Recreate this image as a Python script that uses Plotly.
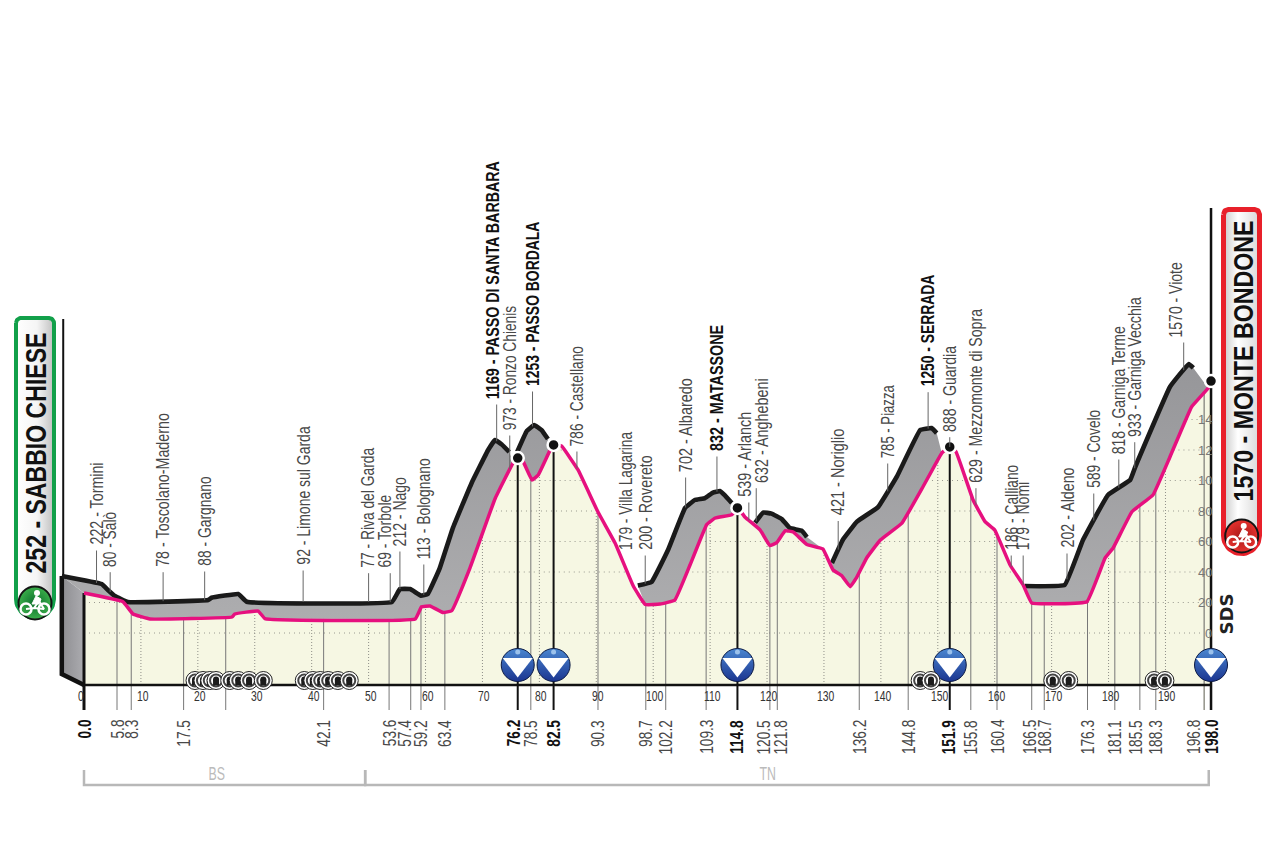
import numpy as np
import plotly.graph_objects as go

# ---------- DATA (km, metres) ----------
road_km = [0, 6.85, 8.6, 11.6, 26.0, 26.5, 30.6, 31.8, 58.2, 59.3, 60.8, 63.1, 64.6, 67.8, 72.2, 75.4, 76.2,
           77.1, 78.7, 79.8, 81.9, 82.6, 83.9, 86.8, 90.3, 93.3, 96.5, 98.6, 101.2, 103.8, 106.5, 109.4,
           110.9, 113.8, 114.9, 116.1, 118.8, 120.5, 121.7, 123.2, 124.6, 127.0, 129.8, 131.6, 133.1,
           134.6, 135.7, 137.5, 139.9, 143.7, 147.4, 150.7, 152.1, 153.2, 156.2, 158.3, 160.0, 162.7,
           165.0, 166.5, 176.2, 179.4, 180.8, 184.1, 187.8, 190.8, 194.6, 197.5, 198.0]
road_m = [262, 205, 125, 92, 105, 125, 144, 94, 92, 172, 177, 134, 146, 426, 879, 1117, 1147,
          1128, 1003, 1036, 1200, 1233, 1226, 1069, 793, 590, 308, 187, 190, 216, 449, 711,
          754, 776, 820, 761, 675, 573, 592, 671, 662, 580, 551, 413, 377,
          304, 361, 492, 610, 721, 959, 1180, 1220, 1189, 872, 730, 675, 446,
          315, 197, 205, 492, 557, 795, 905, 1156, 1484, 1606, 1652]

ridge1_km = [-3.9, 3.1, 4.2, 5.4, 7.7, 21.8, 22.4, 27.1, 28.6, 54.1, 55.5, 57.3, 59.2, 60.4, 62.5, 64.8, 68.1, 71.0, 72.2, 73.4, 74.7]
ridge1_m = [374, 321, 282, 243, 203, 216, 231, 256, 205, 203, 288, 288, 245, 256, 426, 688, 984, 1200, 1265, 1236, 1187]
ridge2_km = [76.1, 77.8, 79.1, 80.4, 81.5]
ridge2_m = [1187, 1325, 1364, 1331, 1272]
ridge3_km = [97.3, 99.7, 102.6, 105.6, 107.3, 109.1, 110.5, 111.7, 112.6, 113.8]
ridge3_m = [311, 334, 544, 820, 872, 885, 921, 931, 902, 852]
ridge4_km = [117.9, 119.3, 120.8, 122.6, 124.0, 126.1, 127.0]
ridge4_m = [723, 790, 783, 747, 688, 671, 629]
ridge5_km = [131.4, 133.3, 135.8, 139.5, 142.8, 146.9, 148.9, 149.8]
ridge5_m = [459, 610, 730, 826, 1025, 1331, 1344, 1311]
ridge6_km = [165.3, 172.3, 175.5, 179.9, 183.8, 184.7, 190.8, 194.1, 194.9]
ridge6_m = [308, 315, 610, 905, 1003, 1090, 1615, 1764, 1738]

# road stretch closed by each ridge band
band_road_km = [(0, 75.4), (76.2, 81.9), (98.6, 113.8), (118.8, 129.8), (131.6, 150.7), (165.0, 197.5)]

place_alt = ["222", "80", "78", "88", "92", "77", "69", "212", "113", "1169", "973", "1253", "786", "179", "200",
             "702", "832", "539", "632", "421", "785", "1250", "888", "629", "186", "179", "202", "589", "818", "933", "1570"]
place_name = ["Tormini", "Salò", "Toscolano-Maderno", "Gargnano", "Limone sul Garda", "Riva del Garda", "Torbole",
              "Nago", "Bolognano", "PASSO DI SANTA BARBARA", "Ronzo Chienis", "PASSO BORDALA", "Castellano",
              "Villa Lagarina", "Rovereto", "Albaredo", "MATASSONE", "Arlanch", "Anghebeni", "Noriglio", "Piazza",
              "SERRADA", "Guardia", "Mezzomonte di Sopra", "Calliano", "Nomi", "Aldeno", "Covelo", "Garniga Terme",
              "Garniga Vecchia", "Viote"]
place_km = [2.2, 4.6, 13.9, 21.2, 38.5, 50.0, 53.8, 55.5, 59.7, 72.5, 74.8, 78.8, 86.6, 95.2, 98.6, 105.7, 111.2,
            116.8, 118.1, 132.5, 141.2, 148.3, 152.1, 156.7, 162.9, 165.0, 172.7, 177.4, 181.8, 184.6, 193.2]

km_marks = [0.0, 5.8, 8.3, 17.5, 42.1, 53.6, 57.4, 59.2, 63.4, 76.2, 78.5, 82.5, 90.3, 98.7, 102.2, 109.3, 114.8,
            120.5, 121.8, 136.2, 144.8, 151.9, 155.8, 160.4, 166.5, 168.7, 176.3, 181.1, 185.5, 188.3, 196.8, 198.0]
km_unlabelled = [24.9]
km_bold = [0.0, 76.2, 82.5, 114.8, 151.9, 198.0]
climb_km = [76.2, 82.5, 114.8, 152.1, 198.0]
climb_m = [1147, 1233, 820, 1220, 1652]
tunnel_km = [19.5, 20.9, 22.1, 23.2, 25.6, 27.1, 29.0, 31.5, 38.7, 40.2, 41.5, 42.9, 44.6, 46.6,
             146.9, 148.8, 170.2, 173.0, 188.0, 189.9]
axis_km = list(range(0, 200, 10))
axis_m = list(range(0, 1600, 200))
axis_m_text = ["0", "20", "40", "60", "80", "10", "12", "14"]
provinces = ["BS", "TN"]
province_km = [0, 49.4, 197.6]
start_text = "252 - SABBIO CHIESE"
finish_text = "1570 - MONTE BONDONE"

# ---------- SCALES / STYLE ----------
PXK = 5.692; X0 = 84
PXM = 0.1525; Y0 = 633
def kx(px): return (px - X0) / PXK
def my(py): return (Y0 - py) / PXM
BASE = my(685)
FONT = "Liberation Sans"
PINK = "#E6107F"; BLACK = "#1a1a1a"; BEIGE = "#F6F7E3"
BAND_GRADIENT = [[0, "#aeaeb0"], [1, "#97979a"]]

text_dx = {"Torbole": -5, "Arlanch": -4, "Anghebeni": 5.5, "Viote": -7.7, "PASSO DI SANTA BARBARA": -4}
km_label_dx = {57.4: -6, 76.2: -4.5, 120.5: -6, 121.8: 3.5, 166.5: -2.5, 185.5: -4, 196.8: -11}
text_bottom = [545, 566.7, 566.7, 566, 565, 567.7, 567.7, 546, 559, 399, 430, 386, 446, 550, 550, 472, 451, 497,
               482.7, 515.5, 458, 386.7, 431.7, 482.7, 550, 550, 548, 488, 454, 436.7, 337]
text_top = [463, 511.7, 413, 476.7, 426.7, 447.7, 495, 476.7, 458, 161, 305.6, 221.6, 345.6, 432, 455.5, 378, 325, 412,
            378, 429, 385, 275, 345.7, 309, 465, 481.7, 468, 410, 326, 297, 261.7]

road_k = np.array(road_km, float); road_e = np.array(road_m, float)
ridges = [(ridge1_km, ridge1_m), (ridge2_km, ridge2_m), (ridge3_km, ridge3_m),
          (ridge4_km, ridge4_m), (ridge5_km, ridge5_m), (ridge6_km, ridge6_m)]

def road_at(k): return float(np.interp(k, road_k, road_e))
def top_at(k):
    for rk, rm in ridges:
        if rk[0] <= k <= rk[-1]:
            return float(np.interp(k, rk, rm))
    return road_at(k)

fig = go.Figure()
def line(x, y, color, width, dash=None, spline=False):
    fig.add_trace(go.Scatter(x=x, y=y, mode="lines", hoverinfo="skip", showlegend=False,
                             line=dict(color=color, width=width, dash=dash,
                                       shape="spline" if spline else "linear", smoothing=0.25 if spline else None)))
def dots(x, y, **marker):
    fig.add_trace(go.Scatter(x=x, y=y, mode="markers", hoverinfo="skip", showlegend=False, marker=marker))

# ground
fig.add_trace(go.Scatter(x=[0] + road_km + [198, 0], y=[BASE] + road_m + [BASE, BASE], mode="none", fill="toself",
                         fillcolor=BEIGE, hoverinfo="skip", showlegend=False))

# dotted grid, clipped to the ground
fine = np.arange(0, 198.01, 0.1)
fine_e = np.interp(fine, road_k, road_e)
for lvl in axis_m:
    xs = fine.copy().tolist(); ys = [lvl if e > lvl else None for e in fine_e]
    line(xs, ys, "#9a9a90", 1, "1px,4px")
for k in axis_km[1:]:
    line([k, k], [BASE, road_at(k)], "#8f8f88", 1, "1px,2px")

# km marks
for k in km_marks + km_unlabelled:
    if k in km_bold:
        continue
    wid = 1.6 if k == 196.8 else 1
    line([k, k], [my(710), road_at(k)], "#777777" if k != 196.8 else "#999990", wid)

# left end face
fig.add_trace(go.Scatter(x=[ridge1_km[0], 0, 0, ridge1_km[0], ridge1_km[0]],
                         y=[ridge1_m[0], road_m[0], BASE, my(673), ridge1_m[0]], mode="lines", fill="toself",
                         line=dict(width=0), fillgradient=dict(type="horizontal", colorscale=[[0, "#8e8e92"], [1, "#acacb0"]]),
                         hoverinfo="skip", showlegend=False))
# ridge bands
for (rk, rm), (a, b) in zip(ridges, band_road_km):
    mask = (road_k >= a) & (road_k <= b)
    xs = list(rk) + road_k[mask][::-1].tolist() + [rk[0]]
    ys = list(rm) + road_e[mask][::-1].tolist() + [rm[0]]
    fig.add_trace(go.Scatter(x=xs, y=ys, mode="lines", line=dict(width=0), fill="toself",
                             fillgradient=dict(type="vertical", colorscale=BAND_GRADIENT, start=0, stop=1700),
                             hoverinfo="skip", showlegend=False))

# passes poles
for k, e in zip(climb_km, climb_m):
    line([k, k], [my(710), e], "#111111", 2)
line([0, 0], [my(710), road_m[0]], "#111111", 3)
line([0, 198], [BASE, BASE], "#111111", 2.5)
line([198, 198], [my(710), my(208)], "#111111", 2.5)
line([ridge1_km[0] + 0.25, ridge1_km[0] + 0.25], [ridge1_m[0], my(319)], "#111111", 2)
line([ridge1_km[0], ridge1_km[0], 0], [ridge1_m[0], my(674), BASE], "#111111", 4.5)

for rk, rm in ridges:
    line(rk, rm, BLACK, 4.6, spline=True)
line(road_km, road_m, PINK, 3.5, spline=True)

# summit dots
dots(climb_km, climb_m, size=12, color="#111111", line=dict(color="white", width=2.5))
# climb discs
dots(climb_km, [my(665)] * 5, size=33, color="#4a86d0", line=dict(color="#0c1a44", width=1),
     gradient=dict(type="vertical", color="#1b3590"))
dots(climb_km, [my(664.5)] * 5, size=26, color="white", symbol="triangle-down")
dots(climb_km, [my(652)] * 5, size=5, color="#9cc2ec")

# tunnels
ty = my(680.5)
for k in tunnel_km:
    dots([k], [ty], size=18, color="white", line=dict(color="#222", width=1))
    dots([k], [ty], size=12, color="white", line=dict(color="#444", width=2))
    dots([k], [my(679.5)], size=6, color="#1c1c1c")
    dots([k], [my(682.5)], size=6, color="#1c1c1c", symbol="square")

ann = []
def text(x, y, s, size, color="#333", bold=False, angle=0, xa="center", ya="middle", family=FONT, squeeze="R0.75"):
    ann.append(dict(x=x, y=y, text=s, showarrow=False, textangle=angle, xanchor=xa, yanchor=ya, borderpad=0,
                    borderwidth=0, name=squeeze,
                    font=dict(family=family, size=size, color=color, weight=700 if bold else 400)))

# place labels + leaders
for alt, name, k, b, t in zip(place_alt, place_name, place_km, text_bottom, text_top):
    is_pass = name.isupper()
    cx = X0 + k * PXK + text_dx.get(name, 0)
    text(kx(cx), my(b), f"{alt} - {name}", 18, "#111" if is_pass else "#484848", is_pass, -90, ya="bottom", squeeze=f"L{b - t:.1f}")
    if name != "Villa Lagarina":
        line([k, k], [my(b + 5.5), top_at(k)], "#666666", 1)

# km labels
for k in km_marks:
    b = k in km_bold
    text(k + km_label_dx.get(k, 0) / PXK, my(720), f"{k:.1f}", 18, "#111" if b else "#484848", b, -90, ya="top", squeeze="R0.76")
# axis labels
for k in axis_km:
    text(k + 0.35 if k else -0.5, my(696), str(k), 14, "#333", squeeze="R0.74")
for m, s in zip(axis_m, axis_m_text):
    text(kx(1212), m, s, 13, "#777", xa="right", squeeze="R1")

# provinces
for i, p in enumerate(provinces):
    a, b = province_km[i], province_km[i + 1]
    line([a, a, b, b], [my(770), my(785), my(785), my(770)], "#b8b8b8", 2.5)
text(kx(216), my(773), provinces[0], 19, "#bbbbbb", squeeze="R0.65")
text(kx(767), my(773), provinces[1], 19, "#bbbbbb", squeeze="R0.65")

# plaques
def plaque(x0, x1, y0, y1, rt, rb, edge, grad, w):
    pts = []
    for cx, cy, r, a0, a1 in [(x0 + rt, y0 + rt, rt, 180, 270), (x1 - rt, y0 + rt, rt, 270, 360),
                              (x1 - rb, y1 - rb, rb, 0, 90), (x0 + rb, y1 - rb, rb, 90, 180)]:
        t = np.radians(np.linspace(a0, a1, 14))
        pts += list(zip(cx + r * np.cos(t), cy + r * np.sin(t)))
    pts.append(pts[0])
    fig.add_trace(go.Scatter(x=[kx(p[0]) for p in pts], y=[my(p[1]) for p in pts], mode="lines", fill="toself",
                             hoverinfo="skip", showlegend=False, line=dict(color=edge, width=w),
                             fillgradient=dict(type="horizontal", colorscale=grad)))
plaque(16, 54, 318, 618, 5, 19, "#12A04A", [[0, "#ffffff"], [0.55, "#f5f5f5"], [1, "#bfbfbf"]], 4)
plaque(1223.5, 1259.5, 209.5, 553.5, 5, 18, "#E8202A", [[0, "#c9c9c9"], [0.4, "#ffffff"], [1, "#d8d8d8"]], 5)

def badge(cx, cy, fillc, dark):
    dots([kx(cx)], [my(cy)], size=33, color=fillc, line=dict(color="#141414", width=2),
         gradient=dict(type="radial", color=dark))
    dots([kx(cx - 9), kx(cx + 9)], [my(cy + 6)] * 2, size=11, color="rgba(0,0,0,0)", line=dict(color="white", width=2.5))
    line([kx(cx + p) for p in (-9, -1, 4, 9, -1, -9)], [my(cy + p) for p in (6, 5, -2, 6, 5, 6)], "white", 2)
    fig.add_trace(go.Scatter(x=[kx(cx + p) for p in (-3, 1, 6, 4, 1, -3)],
                             y=[my(cy + p) for p in (1, -7, -4, 1, 1, 1)], mode="lines", fill="toself",
                             fillcolor="white", hoverinfo="skip", showlegend=False, line=dict(color="white", width=1)))
    dots([kx(cx + 2)], [my(cy - 10)], size=6, color="white")
badge(35, 603, "#3aae4a", "#0c6d2c")
badge(1241.7, 536, "#e5322e", "#a81818")

text(kx(35), my(574), start_text, 29, "#111", True, -90, ya="bottom", squeeze="L241")
text(kx(1243), my(502), finish_text, 27, "#111", True, -90, ya="bottom", squeeze="L281")
text(kx(1226), my(635), "SDS", 18, "#222", True, -90, ya="bottom", family="DejaVu Sans", squeeze="R1")

fig.update_layout(width=1280, height=852, margin=dict(l=0, r=0, t=0, b=0), paper_bgcolor="white", plot_bgcolor="white",
                  showlegend=False, annotations=ann,
                  xaxis=dict(range=[kx(0), kx(1280)], visible=False, fixedrange=True),
                  yaxis=dict(range=[my(852), my(0)], visible=False, fixedrange=True))

# The reference uses a condensed face that is not installed: condense the real SVG text in place.
POST = """
document.body.style.margin='0';document.body.style.overflow='hidden';
function squeezeLabels(){
  var gd=document.querySelector('.plotly-graph-div'); if(!gd||!gd.layout) return;
  gd.querySelectorAll('.annotation').forEach(function(g){
    var a=gd.layout.annotations[+g.getAttribute('data-index')];
    var t=g.querySelector('text.annotation-text');
    if(!a||!t||t.getAttribute('data-s')) return;
    var L=t.getComputedTextLength(), n=a.name||'R1';
    var target=n[0]=='L'?parseFloat(n.slice(1)):L*parseFloat(n.slice(1));
    var x=parseFloat(t.getAttribute('x'))||0;
    if(a.textangle&&a.yanchor=='bottom'){t.setAttribute('text-anchor','start');t.setAttribute('x',x-L/2);}
    else if(a.textangle&&a.yanchor=='top'){t.setAttribute('text-anchor','end');t.setAttribute('x',x+L/2);}
    t.setAttribute('lengthAdjust','spacingAndGlyphs');
    t.setAttribute('textLength',target);
    t.setAttribute('data-s','1');
  });
}
squeezeLabels();
setTimeout(squeezeLabels,0);setTimeout(squeezeLabels,100);
"""
fig.write_html("out.html", config={"displayModeBar": False}, post_script=POST)
